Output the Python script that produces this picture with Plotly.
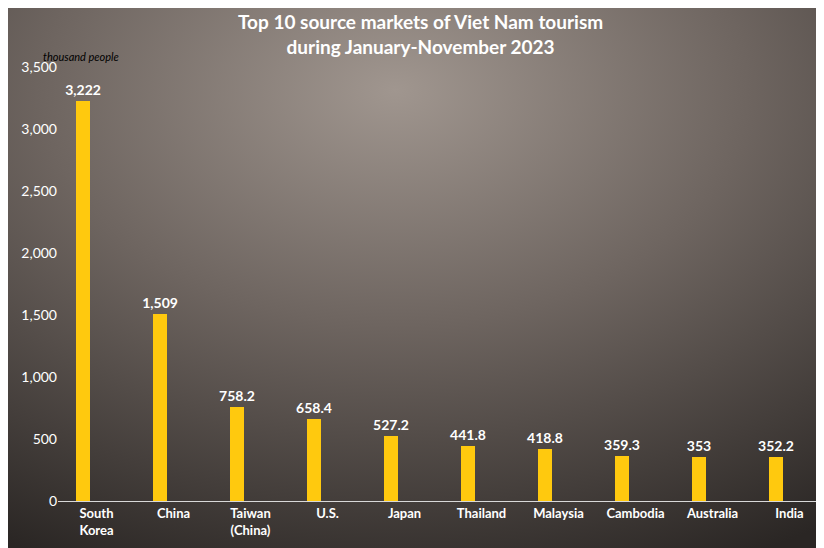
import plotly.graph_objects as go
import base64

categories = ["South<br>Korea", "China", "Taiwan<br>(China)", "U.S.", "Japan", "Thailand",
              "Malaysia", "Cambodia", "Australia", "India"]
values = [3222, 1509, 758.2, 658.4, 527.2, 441.8, 418.8, 359.3, 353, 352.2]
value_labels = ["3,222", "1,509", "758.2", "658.4", "527.2", "441.8", "418.8", "359.3", "353", "352.2"]
y_ticks = [0, 500, 1000, 1500, 2000, 2500, 3000, 3500]

svg = """<svg xmlns='http://www.w3.org/2000/svg' width='824' height='548'>
<defs><radialGradient id='g' cx='0.47' cy='0.15' r='0.95' fx='0.47' fy='0.15'>
<stop offset='0' stop-color='#a0968f'/><stop offset='0.45' stop-color='#6e6560'/>
<stop offset='1' stop-color='#2a2624'/></radialGradient></defs>
<rect width='824' height='548' fill='url(#g)'/></svg>"""
uri = "data:image/svg+xml;base64," + base64.b64encode(svg.encode()).decode()

T, B, L, R = 59, 55, 50, 4
PW, PH = 824 - L - R, 548 - T - B

fig = go.Figure(go.Bar(
    x=categories, y=values, width=0.19, offset=-0.27,
    marker=dict(color="#FFC90E", line=dict(width=0)),
    text=value_labels, textposition="outside", cliponaxis=False, constraintext="none",
    textfont=dict(color="white", size=14, family="Lato", weight="bold"),
))
fig.update_layout(
    width=824, height=548,
    margin=dict(l=L, r=R, t=T, b=B),
    paper_bgcolor="#5a524d", plot_bgcolor="rgba(0,0,0,0)",
    images=[dict(source=uri, xref="paper", yref="paper", x=-L/PW, y=1+T/PH,
                 sizex=824/PW, sizey=548/PH, sizing="stretch", layer="below",
                 xanchor="left", yanchor="top")],
    showlegend=False, bargap=0, uniformtext=dict(mode=False),
    annotations=[
        dict(text="<i>thousand people</i>", xref="paper", yref="paper",
             x=-17/PW, y=1+(T-48)/PH, xanchor="left", yanchor="middle",
             showarrow=False, font=dict(color="black", size=11, family="Lato")),
        dict(text="<b>Top 10 source markets of Viet Nam tourism<br>during January-November 2023</b>",
             xref="paper", yref="paper", x=(412-L)/PW, y=1+(T-26)/PH,
             xanchor="center", yanchor="middle", showarrow=False,
             font=dict(color="white", size=19, family="Lato")),
    ],
)
fig.update_xaxes(showline=True, linecolor="#d9d9d9", linewidth=1, ticks="",
                 tickfont=dict(color="white", size=13, family="Lato", weight="bold"))
fig.update_yaxes(range=[0, 3500], tickvals=y_ticks, tickformat=",", showgrid=False,
                 zeroline=False, ticks="",
                 tickfont=dict(color="white", size=14, family="Lato"))
fig.write_html("out.html")
